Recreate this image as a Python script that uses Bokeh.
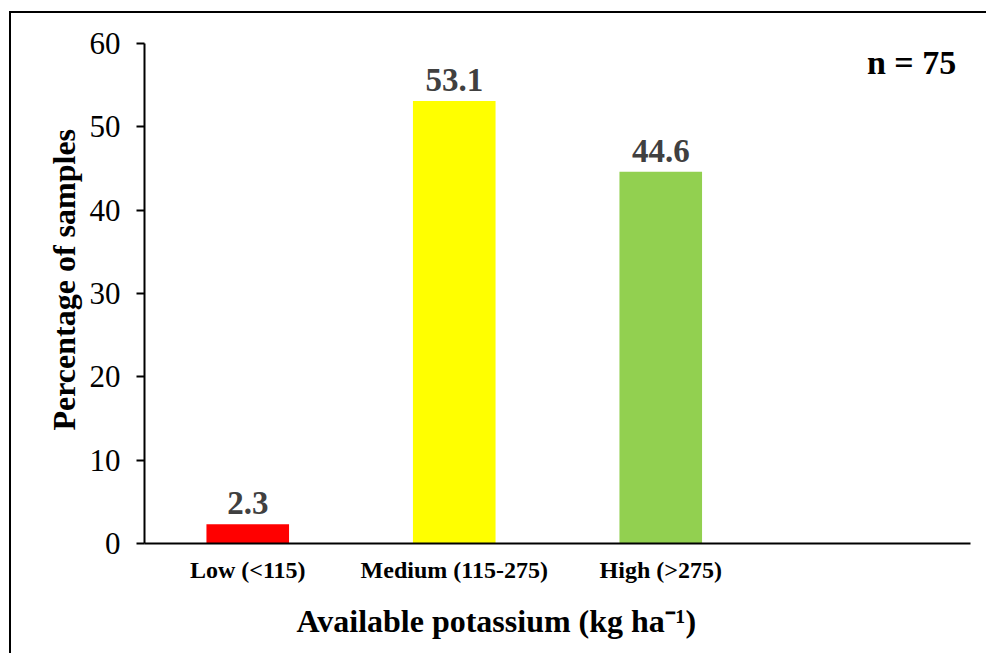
from bokeh.plotting import figure
from bokeh.models import ColumnDataSource, FactorRange, Range1d, LabelSet, FixedTicker, Title
from bokeh.embed import file_html
from bokeh.resources import INLINE

# Soil available potassium classes and share of samples in each
categories = ["Low (<115)", "Medium (115-275)", "High (>275)"]
percent = [2.3, 53.1, 44.6]
bar_colors = ["#FF0000", "#FFFF00", "#92D050"]
y_ticks = [0, 10, 20, 30, 40, 50, 60]
sample_note = "n = 75"
y_title = "Percentage of samples"
x_title = "Available potassium (kg ha\u207b\u00b9)"

# an empty fourth slot keeps the bars to the left of the axis span
spare = " "
factors = categories + [spare]

src = ColumnDataSource(dict(
    cat=categories,
    val=percent,
    color=bar_colors,
    lbl=[f"{v:.1f}" for v in percent],
))

FONT = "Liberation Serif"
W, H = 977, 642

p = figure(
    width=W, height=H,
    x_range=FactorRange(*factors, range_padding=0),
    y_range=Range1d(0, 60),
    output_backend="svg", toolbar_location=None,
    min_border_left=133, min_border_right=18,
    min_border_top=30, min_border_bottom=112,
)
# framed page: rule on the left and top edges
p.margin = (11, 0, 0, 9)
p.styles = {"border-left": "2px solid black", "border-top": "2px solid black"}
p.outline_line_color = None
p.grid.visible = False
p.background_fill_color = "white"
p.border_fill_color = "white"

p.vbar(x="cat", top="val", width=0.4, color="color", line_color=None, source=src)

p.add_layout(LabelSet(
    x="cat", y="val", text="lbl", source=src,
    text_align="center", text_baseline="bottom", y_offset=10,
    text_font=FONT, text_font_style="bold", text_font_size="33px",
    text_color="#404040",
))

# sample count in the top-right corner of the plot area
note_src = ColumnDataSource(dict(x=[spare], y=[60], t=[sample_note]))
p.add_layout(LabelSet(
    x="x", y="y", text="t", source=note_src,
    x_offset=89, y_offset=-19,
    text_align="right", text_baseline="middle",
    text_font=FONT, text_font_style="bold", text_font_size="34px",
    text_color="black",
))

# y axis
ya = p.yaxis[0]
ya.ticker = FixedTicker(ticks=y_ticks)
ya.major_label_text_font = FONT
ya.major_label_text_font_size = "31px"
ya.major_label_text_color = "black"
ya.major_label_standoff = 16
ya.major_tick_out = 8
ya.major_tick_in = 0
ya.minor_tick_out = 0
ya.minor_tick_in = 0
ya.axis_line_color = "black"
ya.axis_line_width = 2
ya.major_tick_line_width = 2

# x axis
xa = p.xaxis[0]
xa.major_label_text_font = FONT
xa.major_label_text_font_style = "bold"
xa.major_label_text_font_size = "24px"
xa.major_label_text_color = "black"
xa.major_label_standoff = 13
xa.major_tick_out = 0
xa.major_tick_in = 0
xa.axis_line_color = "black"
xa.axis_line_width = 2

title_style = dict(text_font=FONT, text_font_style="bold", text_color="black",
                   text_font_size="32px")
p.add_layout(Title(text=y_title, align="left", offset=113, standoff=10, **title_style), "left")
p.add_layout(Title(text=x_title, align="left", offset=152, standoff=31, **title_style), "below")

open("out.html", "w").write(file_html(p, INLINE))
